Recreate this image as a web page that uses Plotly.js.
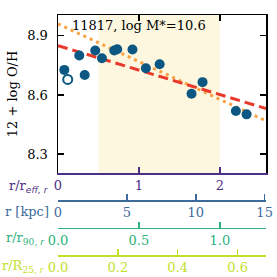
<!DOCTYPE html>
<html><head><meta charset="utf-8">
<script src="https://cdn.plot.ly/plotly-3.0.1.min.js"></script>
<style>html,body{margin:0;padding:0;background:#fff}</style>
</head><body><div id="chart" style="width:277px;height:277px"></div>
<script>
// Data (radius in r/r_eff,r ; metallicity 12 + log O/H)
var rEff   = [0.078, 0.263, 0.33, 0.46, 0.543, 0.695, 0.732, 0.92, 1.086, 1.256, 1.65, 1.786, 2.198, 2.33];
var oh     = [8.727, 8.800, 8.701, 8.825, 8.786, 8.825, 8.832, 8.830, 8.735, 8.756, 8.606, 8.665, 8.519, 8.502];
var ohErr  = [0.020, 0.015, 0.015, 0.022, 0.018, 0.022, 0.018, 0.015, 0.012, 0.012, 0.012, 0.012, 0.010, 0.010];
var rEffOpen = [0.12];
var ohOpen   = [8.679];
// Gradient fits: [intercept, slope per r_eff]
var fitRed    = [8.85, -0.124];
var fitOrange = [8.96, -0.191];
// Axis ranges / ticks
var xRange   = [0, 2.57];
var yRange   = [8.205, 9.005];
var yTicks   = [8.3, 8.6, 8.9];
var effTicks = [0, 1, 2];
var kpcTicks = [0, 5, 10, 15];
var r90Ticks = [0.0, 0.5, 1.0];
var r90Text  = ['0.0', '0.5', '1.0'];
var r25Ticks = [0.0, 0.2, 0.4, 0.6];
var r25Text  = ['0.0', '0.2', '0.4', '0.6'];
var kpcMax = 15.1, r90Max = 1.285, r25Max = 0.695;
var shade = [0.5, 2.0];
var title = '11817, log M*=10.6';

var serif = 'DejaVu Serif, serif';
var cEff = '#4e2f86', cKpc = '#3d6c9c', c90 = '#2db27d', c25 = '#c3df2a';
var ptColor = '#0c5882';

function fitLine(f){ return {x: xRange.slice(), y: xRange.map(function(x){return f[0]+f[1]*x;})}; }
var red = fitLine(fitRed), orange = fitLine(fitOrange);

var traces = [
  {x: orange.x, y: orange.y, mode:'lines', line:{color:'#f9a141', width:3, dash:'3px,4px'}, hoverinfo:'skip'},
  {x: red.x, y: red.y, mode:'lines', line:{color:'#e8392b', width:3, dash:'10px,5px'}, hoverinfo:'skip'},
  {x: rEff, y: oh, mode:'markers', marker:{color:ptColor, size:10},
   error_y:{type:'data', array: ohErr, color: ptColor, thickness:1.5, width:0}},
  {x: rEffOpen, y: ohOpen, mode:'markers', marker:{color:'rgba(0,0,0,0)', size:9, line:{color:ptColor, width:2}}}
];

var H = 277, T = 15, plotH = H - T;
function py(p){ return (H - p) / plotH; }
function px(p){ return (p - 58) / 208; }

var axFont = function(c){ return {family: serif, size: 13, color: c}; };
var subSans = function(s){ return '<span style="font-family:DejaVu Sans">' + s + '</span>'; };
var layout = {
  width: 277, height: 277,
  margin: {l: 58, r: 11, t: 15, b: 0},
  paper_bgcolor: '#fff', plot_bgcolor: 'rgba(0,0,0,0)',
  showlegend: false,
  font: {family: serif, size: 13, color: '#000'},
  xaxis: {range: xRange, domain:[0,1], anchor:'y', showgrid:false, zeroline:false,
          showline:true, linecolor:cEff, linewidth:1.5, ticks:'inside', ticklen:6, tickwidth:1.5, tickcolor:cEff,
          tickvals: effTicks, tickfont: axFont(cEff)},
  xaxis5: {range: xRange, overlaying:'x', anchor:'y', side:'top', showgrid:false, zeroline:false,
          showline:true, linecolor:'#000', linewidth:1.5, ticks:'inside', ticklen:6, tickwidth:1.5, tickcolor:'#000',
          tickvals: effTicks, showticklabels:false},
  yaxis: {range: yRange, domain:[py(173), 1], showgrid:false, zeroline:false,
          showline:true, linecolor:'#000', linewidth:1.5, mirror:'ticks', ticks:'inside', ticklen:6, tickwidth:1.5, tickcolor:'#000',
          tickvals: yTicks, ticktext: yTicks.map(function(v){return v.toFixed(1);}), tickfont: axFont('#000'),
          ticklabelstandoff: 6,
          title:{text:'12 + log O/H', font:{family:serif, size:13, color:'#000'}, standoff: 6}},
  xaxis2: {range:[0,kpcMax], overlaying:'x', anchor:'free', position: py(200), showgrid:false, zeroline:false,
          showline:true, linecolor:cKpc, linewidth:1.5, ticks:'inside', ticklen:6, tickwidth:1.5, tickcolor:cKpc,
          tickvals: kpcTicks, tickfont: axFont(cKpc)},
  xaxis3: {range:[0,r90Max], overlaying:'x', anchor:'free', position: py(227.7), showgrid:false, zeroline:false,
          showline:true, linecolor:c90, linewidth:1.5, ticks:'inside', ticklen:6, tickwidth:1.5, tickcolor:c90,
          tickvals: r90Ticks, ticktext: r90Text, tickfont: axFont(c90)},
  xaxis4: {range:[0,r25Max], overlaying:'x', anchor:'free', position: py(255), showgrid:false, zeroline:false,
          showline:true, linecolor:c25, linewidth:1.5, ticks:'inside', ticklen:6, tickwidth:1.5, tickcolor:c25,
          tickvals: r25Ticks, ticktext: r25Text, tickfont: axFont(c25)},
  shapes: [{type:'rect', xref:'x', yref:'y domain', x0: shade[0], x1: shade[1], y0:0, y1:1,
            fillcolor:'#fdf7df', line:{width:0}, layer:'below'}],
  annotations: [
    {text: title, xref:'x', yref:'y', x: 1.0, y: 8.95, showarrow:false, font:{family:serif, size:13, color:'#000'}},
    {text: 'r/r<sub>' + subSans('<i>eff, r</i>') + '</sub>', xref:'paper', yref:'paper', x: px(51), y: py(186), xanchor:'right', yanchor:'middle', showarrow:false, font: axFont(cEff)},
    {text: 'r [kpc]', xref:'paper', yref:'paper', x: px(51), y: py(211), xanchor:'right', yanchor:'middle', showarrow:false, font: axFont(cKpc)},
    {text: 'r/r<sub>90, ' + subSans('<i>r</i>') + '</sub>', xref:'paper', yref:'paper', x: px(47), y: py(238), xanchor:'right', yanchor:'middle', showarrow:false, font: axFont(c90)},
    {text: 'r/R<sub>25, ' + subSans('<i>r</i>') + '</sub>', xref:'paper', yref:'paper', x: px(47), y: py(266), xanchor:'right', yanchor:'middle', showarrow:false, font: axFont(c25)}
  ]
};
// map dummy traces so overlay axes are drawn
traces.push({x:[null], y:[null], xaxis:'x2', yaxis:'y', hoverinfo:'skip'});
traces.push({x:[null], y:[null], xaxis:'x3', yaxis:'y', hoverinfo:'skip'});
traces.push({x:[null], y:[null], xaxis:'x4', yaxis:'y', hoverinfo:'skip'});
traces.push({x:[null], y:[null], xaxis:'x5', yaxis:'y', hoverinfo:'skip'});
Plotly.newPlot('chart', traces, layout, {displayModeBar:false, staticPlot:true});
</script></body></html>
